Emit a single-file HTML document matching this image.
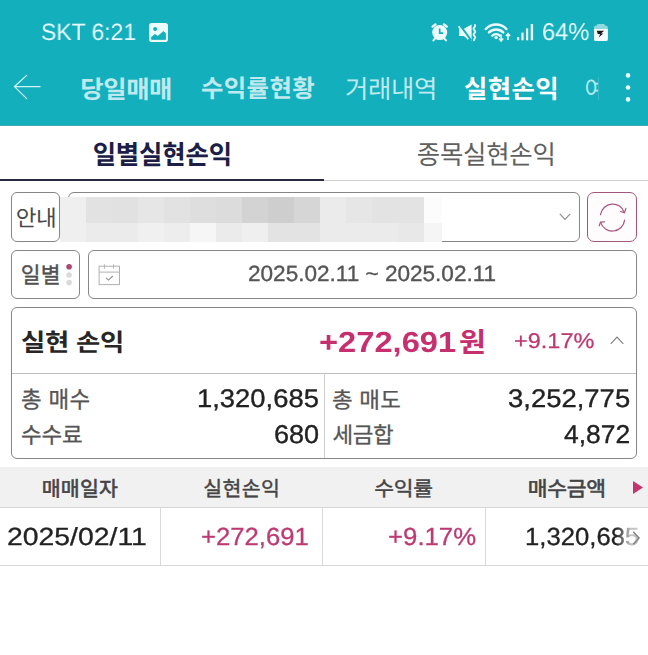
<!DOCTYPE html>
<html lang="ko">
<head>
<meta charset="utf-8">
<title>실현손익</title>
<style>
html,body{margin:0;padding:0}
body{width:648px;height:655px;position:relative;overflow:hidden;background:#fff;font-family:"Liberation Sans",sans-serif}
#hdr{position:absolute;left:0;top:0;width:648px;height:125px;background:#14afbd;border-bottom:1px solid #45a9b4}
.k,.i{position:absolute;display:block;overflow:visible}
.k text{font-family:"Liberation Sans","Noto Sans CJK KR",sans-serif;font-size:1000px;text-rendering:geometricPrecision}
.t{will-change:transform;position:absolute;white-space:nowrap;line-height:1;text-rendering:geometricPrecision;transform-origin:0 50%;display:block}
.box{position:absolute;box-sizing:border-box;border:1px solid #868686;background:#fff}
</style>
</head>
<body>
<div id="hdr"></div>
<span class="t" style="left:41.06px;top:21.19px;font-size:23.57px;color:#e6f9fb;transform:scaleX(0.9733);">SKT 6:21</span>
<svg class="i" style="left:149px;top:23px" width="19" height="19" viewBox="0 0 19 19"><rect x="0" y="0" width="19" height="19" rx="2.8" fill="#ecfbfc"/><path d="M2.2 14.5 L5.8 11.4 L8.9 13.3 L14.5 8.4 L16.6 10.5 V16.4 H2.7 Z" fill="#14afbd" stroke="#14afbd" stroke-width="0.8" stroke-linejoin="round"/><circle cx="6.1" cy="6.1" r="2" fill="#14afbd"/></svg>
<svg class="i" style="left:431px;top:23px" width="18" height="19" viewBox="0 0 18 19"><circle cx="8.7" cy="9.6" r="7.5" fill="#ecfbfc"/><path d="M8.7 5.6v4.6h3.3" stroke="#14afbd" stroke-width="1.7" fill="none"/><path d="M1.6 3.6 L4.4 1.5 M15.8 3.6 L13 1.5" stroke="#ecfbfc" stroke-width="2.4" stroke-linecap="round"/><path d="M4.2 15.4 L2.4 17.4 M13.2 15.4 L15 17.4" stroke="#ecfbfc" stroke-width="2" stroke-linecap="round"/></svg>
<svg class="i" style="left:458px;top:24px" width="19" height="18" viewBox="0 0 19 18"><path d="M1 5h4.5L13.6 0.4v16.4L5.5 12H1z" fill="#ecfbfc"/><path d="M0.5 -0.5 L13 16.5" stroke="#14afbd" stroke-width="2.4"/><path d="M0.6 2.2 L10.2 15.2" stroke="#ecfbfc" stroke-width="1.7"/><path d="M16.4 0.4 q1.6 1.4 0 2.9 q-1.6 1.4 0 2.9 q1.6 1.4 0 2.9 q-1.6 1.4 0 2.9 q1.6 1.4 0 2.9 q-1 1 0 2" stroke="#ecfbfc" stroke-width="1.9" fill="none"/></svg>
<svg class="i" style="left:484px;top:21px" width="27" height="21" viewBox="0 0 27 21"><g fill="none" stroke="#ecfbfc" stroke-width="2.5" stroke-linecap="round"><path d="M1.8 8 A14.2 14.2 0 0 1 22.4 8"/><path d="M5 11.4 A10 10 0 0 1 19.2 11.4"/><path d="M8.4 14.6 A5.4 5.4 0 0 1 15.8 14.6"/></g><circle cx="12.1" cy="16.6" r="1.7" fill="#ecfbfc"/><path d="M17.1 13.6v6M15 17.6l2.1 2.4 2.1-2.4M24 19v-6M21.9 15l2.1-2.4 2.1 2.4" stroke="#ecfbfc" stroke-width="1.5" fill="none"/></svg>
<svg class="i" style="left:516.6px;top:23.9px" width="17" height="16.3" viewBox="0 0 17 16.3"><g fill="#ecfbfc"><rect x="0" y="13" width="2.2" height="3.3"/><rect x="4.4" y="8.6" width="2.2" height="7.7"/><rect x="9" y="4.4" width="2.2" height="11.9"/><rect x="13.7" y="0" width="2.4" height="16.3"/></g></svg>
<span class="t" style="left:541.56px;top:20.6px;font-size:24.39px;color:#e6f9fb;transform:scaleX(0.9729);">64%</span>
<svg class="i" style="left:594px;top:23.9px" width="13.8" height="17.1" viewBox="0 0 13.8 17.1"><rect x="3" y="0" width="7.8" height="3" rx="1" fill="#8fd9e1"/><rect x="0" y="1.6" width="13.8" height="15.5" rx="2.2" fill="#8fd9e1"/><path d="M0 5h13.8v9.9a2.2 2.2 0 0 1-2.2 2.2h-9.4a2.2 2.2 0 0 1-2.2-2.2z" fill="#f4fcfd"/><path d="M2.8 6.8h7.4l-3.2 2.6 2.4.1-4.8 4 1.6-3.2-2.4-.2z" fill="#1a1a1a"/></svg>
<svg class="i" style="left:13px;top:74px" width="29" height="26" viewBox="0 0 29 26"><path d="M27.5 12.6H1.8M13.9 1.1L1.5 12.6L13.9 24.9" stroke="#d3f4f7" stroke-width="1.25" fill="none"/></svg>
<svg class="k" style="left:82px;top:77px;width:88px;height:23px;" viewBox="72 -838 3524 928" preserveAspectRatio="none" role="img" aria-label="당일매매"><text x="0" y="0" fill="#bfe9ee" font-weight="bold">당일매매</text></svg>
<svg class="k" style="left:202px;top:76.3px;width:112.3px;height:23.2px;" viewBox="41 -844 4531 934" preserveAspectRatio="none" role="img" aria-label="수익률현황"><text x="0" y="0" fill="#bfe9ee" font-weight="bold">수익률현황</text></svg>
<svg class="k" style="left:346px;top:76.5px;width:88px;height:23.5px;" viewBox="41 -832 3522 915" preserveAspectRatio="none" role="img" aria-label="거래내역"><text x="0" y="0" fill="#bfe9ee">거래내역</text></svg>
<svg class="k" style="left:464.5px;top:76.3px;width:91px;height:23.9px;" viewBox="36 -840 3534 929" preserveAspectRatio="none" role="img" aria-label="실현손익"><text x="0" y="0" fill="#ffffff" font-weight="bold">실현손익</text></svg>
<div style="position:absolute;left:584px;top:70px;width:14.3px;height:36px;overflow:hidden"><svg class="k" style="left:1.7px;top:6.5px;width:17px;height:22.7px;" viewBox="61 -832 744 916" preserveAspectRatio="none" role="img" aria-label="여"><text x="0" y="0" fill="#b4e7ed">여</text></svg></div>
<div style="position:absolute;left:598px;top:77px;width:1px;height:23px;background:rgba(255,255,255,0.16)"></div>
<svg class="i" style="left:623.5px;top:72px" width="8" height="31" viewBox="0 0 8 31"><g fill="#e9fafb"><circle cx="4" cy="3.4" r="2.3"/><circle cx="4" cy="15.5" r="2.3"/><circle cx="4" cy="27.4" r="2.3"/></g></svg>
<svg class="k" style="left:93.6px;top:142.3px;width:135.2px;height:24.3px;" viewBox="54 -840 5356 929" preserveAspectRatio="none" role="img" aria-label="일별실현손익"><text x="0" y="0" fill="#1b1e47" font-weight="bold">일별실현손익</text></svg>
<svg class="k" style="left:417.8px;top:142.4px;width:134.6px;height:24.2px;" viewBox="46 -833 5353 916" preserveAspectRatio="none" role="img" aria-label="종목실현손익"><text x="0" y="0" fill="#606060">종목실현손익</text></svg>
<div style="position:absolute;left:0;top:180px;width:648px;height:1px;background:#cfcfcf"></div>
<div style="position:absolute;left:0;top:179px;width:324px;height:2px;background:#26283f"></div>
<div class="box" style="left:11px;top:192px;width:49px;height:50px;border-radius:6px"></div>
<div class="box" style="left:68px;top:192px;width:512px;height:50px;border-radius:6px"></div>
<div style="position:absolute;left:60px;top:197.3px;width:26.2px;height:25.6px;background:#efefef"></div><div style="position:absolute;left:60px;top:222.6px;width:26.2px;height:19.4px;background:#efefef"></div><div style="position:absolute;left:85.9px;top:197.3px;width:26px;height:25.6px;background:#e2e2e2"></div><div style="position:absolute;left:85.9px;top:222.6px;width:26px;height:19.4px;background:#ebebeb"></div><div style="position:absolute;left:111.6px;top:197.3px;width:26.5px;height:25.6px;background:#e1e1e1"></div><div style="position:absolute;left:111.6px;top:222.6px;width:26.5px;height:19.4px;background:#ebebeb"></div><div style="position:absolute;left:137.8px;top:197.3px;width:26.5px;height:25.6px;background:#e6e6e6"></div><div style="position:absolute;left:137.8px;top:222.6px;width:26.5px;height:19.4px;background:#f0f0f0"></div><div style="position:absolute;left:164px;top:197.3px;width:25.9px;height:25.6px;background:#e2e2e2"></div><div style="position:absolute;left:164px;top:222.6px;width:25.9px;height:19.4px;background:#ededed"></div><div style="position:absolute;left:189.6px;top:197.3px;width:26.6px;height:25.6px;background:#dedede"></div><div style="position:absolute;left:189.6px;top:222.6px;width:26.6px;height:19.4px;background:#f6f6f6"></div><div style="position:absolute;left:215.9px;top:197.3px;width:26.2px;height:25.6px;background:#dcdcdc"></div><div style="position:absolute;left:215.9px;top:222.6px;width:26.2px;height:19.4px;background:#ebebeb"></div><div style="position:absolute;left:241.8px;top:197.3px;width:26.4px;height:25.6px;background:#d3d3d3"></div><div style="position:absolute;left:241.8px;top:222.6px;width:26.4px;height:19.4px;background:#efefef"></div><div style="position:absolute;left:267.9px;top:197.3px;width:26.2px;height:25.6px;background:#cecece"></div><div style="position:absolute;left:267.9px;top:222.6px;width:26.2px;height:19.4px;background:#e3e3e3"></div><div style="position:absolute;left:293.8px;top:197.3px;width:26.3px;height:25.6px;background:#d6d6d6"></div><div style="position:absolute;left:293.8px;top:222.6px;width:26.3px;height:19.4px;background:#e3e3e3"></div><div style="position:absolute;left:319.8px;top:197.3px;width:26.2px;height:25.6px;background:#ebebeb"></div><div style="position:absolute;left:319.8px;top:222.6px;width:26.2px;height:19.4px;background:#ebebeb"></div><div style="position:absolute;left:345.7px;top:197.3px;width:26.5px;height:25.6px;background:#e6e6e6"></div><div style="position:absolute;left:345.7px;top:222.6px;width:26.5px;height:19.4px;background:#ebebeb"></div><div style="position:absolute;left:371.9px;top:197.3px;width:26.5px;height:25.6px;background:#e3e3e3"></div><div style="position:absolute;left:371.9px;top:222.6px;width:26.5px;height:19.4px;background:#ebebeb"></div><div style="position:absolute;left:398.1px;top:197.3px;width:26px;height:25.6px;background:#e3e3e3"></div><div style="position:absolute;left:398.1px;top:222.6px;width:26px;height:19.4px;background:#e8e8e8"></div><div style="position:absolute;left:423.8px;top:197.3px;width:17.9px;height:25.6px;background:#fcfcfc"></div><div style="position:absolute;left:423.8px;top:222.6px;width:17.9px;height:19.4px;background:#f5f5f5"></div>
<svg class="k" style="left:16.7px;top:207px;width:37.1px;height:20.5px;" viewBox="58 -832 1686 914" preserveAspectRatio="none" role="img" aria-label="안내"><text x="0" y="0" fill="#484848">안내</text></svg>
<svg class="i" style="left:558.6px;top:213px" width="12" height="8" viewBox="0 0 12 8"><path d="M0.8 0.9L6 6.3L11.2 0.9" stroke="#909090" stroke-width="1.2" fill="none"/></svg>
<div style="position:absolute;left:587px;top:192px;width:50px;height:50px;box-sizing:border-box;border:1.5px solid #a1577c;border-radius:7px;background:#fffcfd"></div>
<svg class="i" style="left:597px;top:202px" width="31" height="30" viewBox="0 0 31 30"><g fill="none" stroke="#a8567e" stroke-width="1.2" stroke-linecap="round" stroke-linejoin="round"><path d="M3.5 12.7 A12.3 12.3 0 0 1 27.4 10.6"/><path d="M28.9 6.4 L27.5 10.7 L23.4 9.5"/><path d="M27.6 18.1 A12.3 12.3 0 0 1 3.6 20.3"/><path d="M2.2 23.8 L3.5 20.2 L7.4 19.8"/></g></svg>
<div class="box" style="left:11px;top:250px;width:69px;height:49px;border-radius:6px"></div>
<svg class="k" style="left:22.4px;top:264px;width:36.9px;height:20.5px;" viewBox="54 -840 1708 920" preserveAspectRatio="none" role="img" aria-label="일별"><text x="0" y="0" fill="#505050" stroke="#505050" stroke-width="18">일별</text></svg>
<svg class="i" style="left:66px;top:264px" width="6" height="22" viewBox="0 0 6 22"><circle cx="3.1" cy="2.8" r="2.8" fill="#ad4673"/><circle cx="3.1" cy="11" r="2.8" fill="#dadada"/><circle cx="3.1" cy="18.6" r="2.8" fill="#dadada"/></svg>
<div class="box" style="left:88px;top:250px;width:549px;height:49px;border-radius:6px"></div>
<svg class="i" style="left:98px;top:263px" width="23" height="23" viewBox="0 0 23 23"><g fill="none" stroke="#b0b0b0" stroke-width="1"><rect x="1.1" y="3.2" width="20.4" height="18.4"/><path d="M1.1 9.1h20.4M6.4 1.4v4.3M15.5 1.4v4.3"/><path d="M8 14.8l2.5 2.3 4.3-4.1" stroke="#8e8e8e" stroke-width="1.1"/></g></svg>
<span class="t" style="left:247.93px;top:263.28px;font-size:22.06px;color:#555;transform:scaleX(1.0231);-webkit-text-stroke:0.35px #555;">2025.02.11 ~ 2025.02.11</span>
<div class="box" style="left:11px;top:307px;width:626px;height:152px;border-radius:6px"></div>
<div style="position:absolute;left:12px;top:373px;width:624px;height:1px;background:#bdbdbd"></div>
<div style="position:absolute;left:324px;top:373px;width:1px;height:85px;background:#cfcfcf"></div>
<svg class="k" style="left:22.3px;top:330.3px;width:97.6px;height:23px;" viewBox="36 -840 3761 929" preserveAspectRatio="none" role="img" aria-label="실현 손익"><text x="0" y="0" fill="#262626" font-weight="bold" xml:space="preserve">실현 손익</text></svg>
<span class="t" style="left:319.24px;top:328.73px;font-size:29.01px;color:#c7306e;transform:scaleX(1.1261);font-weight:bold;">+272,691</span>
<svg class="k" style="left:460.2px;top:328.7px;width:23.9px;height:25.3px;" viewBox="37 -838 804 911" preserveAspectRatio="none" role="img" aria-label="원"><text x="0" y="0" fill="#c7306e" font-weight="bold">원</text></svg>
<span class="t" style="left:514.24px;top:330.68px;font-size:21.33px;color:#bd3a73;transform:scaleX(1.1016);-webkit-text-stroke:0.25px #bd3a73;">+9.17%</span>
<svg class="i" style="left:609.8px;top:336.3px" width="14" height="9" viewBox="0 0 14 9"><path d="M0.7 7.9L7 1.1L13.3 7.9" stroke="#808080" stroke-width="1.2" fill="none"/></svg>
<svg class="k" style="left:22px;top:388.8px;width:66.3px;height:21.4px;" viewBox="40 -838 2903 927" preserveAspectRatio="none" role="img" aria-label="총 매수"><text x="0" y="0" fill="#555" stroke="#555" stroke-width="12" xml:space="preserve">총 매수</text></svg>
<svg class="k" style="left:22px;top:424.6px;width:59.7px;height:20.4px;" viewBox="40 -808 2680 897" preserveAspectRatio="none" role="img" aria-label="수수료"><text x="0" y="0" fill="#555" stroke="#555" stroke-width="12">수수료</text></svg>
<svg class="k" style="left:333.2px;top:388.6px;width:65.9px;height:21.2px;" viewBox="40 -838 2905 926" preserveAspectRatio="none" role="img" aria-label="총 매도"><text x="0" y="0" fill="#555" stroke="#555" stroke-width="12" xml:space="preserve">총 매도</text></svg>
<svg class="k" style="left:332.6px;top:423.8px;width:59.6px;height:21.2px;" viewBox="26 -845 2708 933" preserveAspectRatio="none" role="img" aria-label="세금합"><text x="0" y="0" fill="#555" stroke="#555" stroke-width="12">세금합</text></svg>
<span class="t" style="left:196.94px;top:387.46px;font-size:25.47px;color:#222;transform:scaleX(1.0756);-webkit-text-stroke:0.35px #222;">1,320,685</span>
<span class="t" style="left:273.54px;top:423.01px;font-size:25.71px;color:#222;transform:scaleX(1.0524);-webkit-text-stroke:0.35px #222;">680</span>
<span class="t" style="left:507.72px;top:387.46px;font-size:25.47px;color:#222;transform:scaleX(1.0782);-webkit-text-stroke:0.35px #222;">3,252,775</span>
<span class="t" style="left:564.27px;top:423.01px;font-size:25.71px;color:#222;transform:scaleX(1.0293);-webkit-text-stroke:0.35px #222;">4,872</span>
<div style="position:absolute;left:0;top:467px;width:648px;height:40px;background:#f1f1f1"></div>
<div style="position:absolute;left:0;top:507px;width:648px;height:1px;background:#d6d6d6"></div>
<div style="position:absolute;left:0;top:565px;width:648px;height:1px;background:#d9d9d9"></div>
<div style="position:absolute;left:160px;top:507px;width:1px;height:58px;background:#d9d9d9"></div>
<div style="position:absolute;left:321.5px;top:507px;width:1px;height:58px;background:#d9d9d9"></div>
<div style="position:absolute;left:484.5px;top:507px;width:1px;height:58px;background:#d9d9d9"></div>
<svg class="k" style="left:42.5px;top:478.7px;width:75px;height:19.1px;" viewBox="61 -847 3610 945" preserveAspectRatio="none" role="img" aria-label="매매일자"><text x="0" y="0" fill="#444" stroke="#444" stroke-width="30">매매일자</text></svg>
<svg class="k" style="left:204.3px;top:479px;width:74px;height:18.8px;" viewBox="37 -843 3532 936" preserveAspectRatio="none" role="img" aria-label="실현손익"><text x="0" y="0" fill="#444" stroke="#444" stroke-width="20">실현손익</text></svg>
<svg class="k" style="left:375px;top:478.7px;width:57px;height:19.3px;" viewBox="36 -841 2688 934" preserveAspectRatio="none" role="img" aria-label="수익률"><text x="0" y="0" fill="#444" stroke="#444" stroke-width="20">수익률</text></svg>
<svg class="k" style="left:529px;top:478.7px;width:75px;height:19.3px;" viewBox="61 -847 3534 945" preserveAspectRatio="none" role="img" aria-label="매수금액"><text x="0" y="0" fill="#444" stroke="#444" stroke-width="30">매수금액</text></svg>
<svg class="i" style="left:633.4px;top:481px" width="10" height="13" viewBox="0 0 10 13"><path d="M0 0L10 6.5L0 13z" fill="#c4356f"/></svg>
<span class="t" style="left:7.44px;top:526.44px;font-size:24.69px;color:#222;transform:scaleX(1.1491);-webkit-text-stroke:0.3px #222;">2025/02/11</span>
<span class="t" style="left:200.85px;top:526.44px;font-size:24.69px;color:#bd3a73;transform:scaleX(1.0390);-webkit-text-stroke:0.3px #bd3a73;">+272,691</span>
<span class="t" style="left:387.89px;top:526.44px;font-size:24.69px;color:#bd3a73;transform:scaleX(1.0437);-webkit-text-stroke:0.3px #bd3a73;">+9.17%</span>
<span class="t" style="left:524.54px;top:526.44px;font-size:24.69px;color:#222;transform:scaleX(1.0405);-webkit-text-stroke:0.3px #222;">1,320,685</span>
<div style="position:absolute;left:616px;top:515px;width:32px;height:45px;background:linear-gradient(90deg,rgba(255,255,255,0),rgba(255,255,255,0.72) 45%,rgba(255,255,255,0.8))"></div>
<svg class="i" style="left:632px;top:530.5px" width="8" height="14" viewBox="0 0 8 14"><path d="M1.2 0.8L7 7L1.2 13.2" stroke="#808080" stroke-width="1.5" fill="none"/></svg>
</body>
</html>
